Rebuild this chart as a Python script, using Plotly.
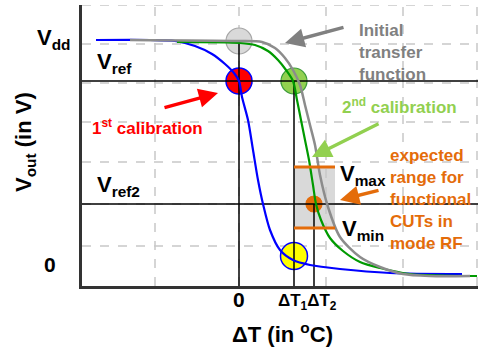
import plotly.graph_objects as go

# Transfer curves: temperature offset dT (arbitrary units) vs output voltage Vout
blue_dt = [-14.3, -8.9, -6.4, -4.4, -2.7, -1.4, -0.5, 0.0, 0.3, 0.9, 1.4, 1.9, 2.4, 3.1, 4.1, 5.4, 7.1, 10.1, 15.1, 22.3]
blue_v = [24.6, 24.6, 24.5, 24.0, 23.2, 22.2, 21.3, 20.5, 18.9, 16.6, 13.6, 10.6, 8.2, 5.6, 3.6, 2.6, 2.1, 1.7, 1.3, 1.2]

gray_dt = [-10.9, -0.1, 2.3, 3.6, 4.6, 5.4, 6.1, 6.6, 7.1, 7.6, 8.1, 8.9, 10.1, 12.1, 14.1, 16.4, 19.1, 23.1]
gray_v = [24.6, 24.5, 24.4, 23.8, 22.8, 21.6, 20.1, 18.1, 16.1, 14.1, 11.1, 7.9, 4.9, 2.9, 1.9, 1.2, 1.0, 1.0]

green_dt = [-6.2, 0.1, 1.6, 2.9, 3.9, 4.7, 5.4, 5.8, 6.2, 6.6, 7.0, 7.4, 7.7, 8.2, 9.1, 10.4, 12.1, 14.1, 17.1, 23.8]
green_v = [24.4, 24.3, 24.1, 23.5, 22.6, 21.6, 20.5, 18.6, 16.6, 14.6, 12.6, 10.1, 8.2, 6.6, 4.8, 3.5, 2.4, 1.8, 1.2, 1.0]

# Reference levels and calibration points
V_DD = 24.5
V_REF = 20.5
V_REF2 = 8.2
V_MAX = 11.9
V_MIN = 5.8
DT0 = 0.0
DT1 = 5.5
DT2 = 7.5
V_YELLOW = 3.0
BOX_RIGHT = 9.6

# Grid positions
grid_x = [-8.4, 0.0, 8.7, 16.4, 23.8]
grid_y = [28.1, 24.2, 20.3, 16.4, 12.4, 8.2, 4.0]

X_RANGE = [-15.7, 23.9]
Y_RANGE = [0, 28.1]

FONT = "Liberation Sans, Arial, sans-serif"
ORANGE = "#E46C0A"
LIGHT_GREEN = "#92D050"
GRAY_TXT = "#808080"

fig = go.Figure()

shapes = []
# shaded expected range
shapes.append(dict(type="rect", xref="x", yref="y", x0=DT1, x1=BOX_RIGHT, y0=V_MIN, y1=V_MAX,
                   fillcolor="#D9D9D9", line=dict(width=0), layer="below"))
for gx in grid_x:
    shapes.append(dict(type="line", xref="x", yref="y", x0=gx, x1=gx, y0=Y_RANGE[0], y1=Y_RANGE[1],
                       line=dict(color="#C8C8C8", width=1.5, dash="dash"), layer="below"))
for gy in grid_y:
    shapes.append(dict(type="line", xref="x", yref="y", x0=X_RANGE[0], x1=X_RANGE[1], y0=gy, y1=gy,
                       line=dict(color="#C8C8C8", width=1.5, dash="dash"), layer="below"))

# calibration markers
def dot(x, y, size, fill, edge, ew=1.2):
    fig.add_trace(go.Scatter(x=[x], y=[y], mode="markers",
                             marker=dict(size=size, color=fill, line=dict(color=edge, width=ew)),
                             hoverinfo="skip"))

dot(DT0, V_DD, 26, "#D9D9D9", "#A6A6A6")
dot(DT0, V_REF, 26, "#FF0000", "#0000FF", 1.5)
dot(DT1, V_REF, 26, LIGHT_GREEN, "#3A9A3A")
dot(DT1, V_YELLOW, 27, "#FFFF00", "#0000FF", 1.5)
dot(DT2, V_REF2, 16, ORANGE, ORANGE)

# reference lines
def seg(xs, ys, color="#000000", width=1.5):
    fig.add_trace(go.Scatter(x=xs, y=ys, mode="lines", line=dict(color=color, width=width),
                             hoverinfo="skip"))

seg(X_RANGE, [V_REF, V_REF])
seg(X_RANGE, [V_REF2, V_REF2])
seg([DT0, DT0], [V_DD, 0])
seg([DT1, DT1], [V_REF, 0])
seg([DT2, DT2], [V_REF2, 0])

# transfer curves
fig.add_trace(go.Scatter(x=blue_dt, y=blue_v, mode="lines", line=dict(color="#0000FF", width=2.2, shape="spline", smoothing=0.8), hoverinfo="skip"))
fig.add_trace(go.Scatter(x=green_dt, y=green_v, mode="lines", line=dict(color="#009A00", width=2.2, shape="spline", smoothing=0.8), hoverinfo="skip"))
fig.add_trace(go.Scatter(x=gray_dt, y=gray_v, mode="lines", line=dict(color="#8C8C8C", width=2.5, shape="spline", smoothing=0.8), hoverinfo="skip"))

# Vmax / Vmin bounds
seg([DT1, BOX_RIGHT], [V_MAX, V_MAX], ORANGE, 3)
seg([DT1, BOX_RIGHT], [V_MIN, V_MIN], ORANGE, 3)

ann = []
def px(x):
    return (x - X_RANGE[0]) / (X_RANGE[1] - X_RANGE[0])

def py(y):
    return (y - Y_RANGE[0]) / (Y_RANGE[1] - Y_RANGE[0])

def txt(x, y, text, size, color="#000000", xanchor="left", yanchor="middle", align="left", angle=0):
    # placed in paper coordinates so labels outside the plotting area stay visible
    ann.append(dict(x=px(x), y=py(y), xref="paper", yref="paper", text=text, showarrow=False,
                    xanchor=xanchor, yanchor=yanchor, align=align, textangle=angle,
                    font=dict(family=FONT, size=size, color=color)))

def arrow(x_head, y_head, x_tail, y_tail, color):
    ann.append(dict(x=x_head, y=y_head, ax=x_tail, ay=y_tail, xref="x", yref="y", axref="x", ayref="y",
                    text="", showarrow=True, arrowhead=2, arrowsize=1.1, arrowwidth=3.5,
                    arrowcolor=color, standoff=0))

txt(-20.4, 24.7, "<b>V<sub>dd</sub></b>", 22)
txt(-14.4, 22.3, "<b>V<sub>ref</sub></b>", 22)
txt(-14.4, 10.0, "<b>V<sub>ref2</sub></b>", 22)
txt(-14.9, 15.9, "<b>1<sup>st</sup> calibration</b>", 17, "#FF0000")
txt(-18.9, 2.2, "<b>0</b>", 21, xanchor="center")
txt(0.0, -1.3, "<b>0</b>", 21, xanchor="center")
txt(3.7, -1.6, "<b>ΔT<sub>1</sub>ΔT<sub>2</sub></b>", 17)
txt(4.3, -4.7, "<b>ΔT (in <sup>o</sup>C)</b>", 22, xanchor="center")
txt(-21.4, 14.4, "<b>V<sub>out</sub> (in V)</b>", 22, xanchor="center", angle=-90)
txt(11.8, 23.4, "<b>Initial<br>transfer<br>function</b>", 17, GRAY_TXT)
txt(10.1, 18.0, "<b>2<sup>nd</sup> calibration</b>", 17, LIGHT_GREEN)
txt(9.9, 11.1, "<b>V<sub>max</sub></b>", 22)
txt(10.1, 5.6, "<b>V<sub>min</sub></b>", 22)
txt(14.9, 8.7, "<b>expected<br>range for<br>functional<br>CUTs in<br>mode RF</b>", 17, ORANGE)

arrow(4.6, 24.3, 10.6, 25.9, GRAY_TXT)
arrow(-2.1, 19.3, -7.6, 17.8, "#FF0000")
arrow(7.3, 12.9, 14.1, 16.3, LIGHT_GREEN)
arrow(10.1, 8.6, 14.1, 9.6, ORANGE)

fig.update_layout(
    width=478, height=356,
    margin=dict(l=82, r=0, t=5, b=70),
    paper_bgcolor="white", plot_bgcolor="white",
    showlegend=False,
    shapes=shapes, annotations=ann,
    xaxis=dict(range=X_RANGE, showgrid=False, zeroline=False, showticklabels=False, ticks="",
               showline=True, linecolor="#333333", linewidth=2.5),
    yaxis=dict(range=Y_RANGE, showgrid=False, zeroline=False, showticklabels=False, ticks="",
               showline=True, linecolor="#333333", linewidth=2.5),
)

fig.write_html("out.html")
